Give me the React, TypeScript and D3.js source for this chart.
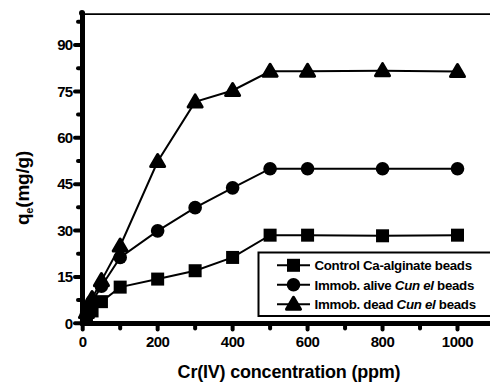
import React from "react";
import * as d3 from "d3";

const concentrations = [10, 25, 50, 100, 200, 300, 400, 500, 600, 800, 1000];
const controlBeads = [2, 4, 7, 11.7, 14.3, 17, 21.3, 28.5, 28.5, 28.3, 28.5];
const aliveBeads = [3, 7, 12, 21.3, 29.9, 37.4, 43.8, 50, 50, 50, 50];
const deadBeads = [3.5, 8, 13.8, 25, 52.3, 71.6, 75.3, 81.5, 81.5, 81.7, 81.4];
const xTicks = [0, 200, 400, 600, 800, 1000];
const xMinor = [100, 300, 500, 700, 900];
const yTicks = [0, 15, 30, 45, 60, 75, 90];
const yMinor = [7.5, 22.5, 37.5, 52.5, 67.5, 82.5, 97.5];
const legendLabels = [
  ["Control Ca-alginate beads", "", ""],
  ["Immob. alive ", "Cun el", " beads"],
  ["Immob. dead ", "Cun el", " beads"],
];

const W = 490;
const H = 385;

export default function App() {
  const x = d3.scaleLinear().domain([0, 1000]).range([82.7, 457.5]);
  const y = d3.scaleLinear().domain([0, 90]).range([323.3, 45]);
  const axisX = 82.5;
  const axisY = 323.5;
  const font = "Arial, 'Liberation Sans', sans-serif";

  const series = [
    { values: controlBeads, shape: "square" },
    { values: aliveBeads, shape: "circle" },
    { values: deadBeads, shape: "triangle" },
  ];

  const line = d3
    .line<number>()
    .x((_, i) => x(concentrations[i]))
    .y((d) => y(d));

  const marker = (shape: string, cx: number, cy: number, key: string | number) => {
    if (shape === "square") {
      return <rect key={key} x={cx - 6.5} y={cy - 6.5} width={13} height={13} fill="#000" />;
    }
    if (shape === "circle") {
      return <circle key={key} cx={cx} cy={cy} r={6.8} fill="#000" />;
    }
    const s = 6;
    const p = `M${cx},${cy - s - 1} L${cx + s + 1},${cy + s - 1} L${cx - s - 1},${cy + s - 1} Z`;
    return (
      <path key={key} d={p} fill="#000" stroke="#000" strokeWidth={3} strokeLinejoin="round" />
    );
  };

  const topY = y(100);

  return (
    <svg width={W} height={H} style={{ position: "absolute", left: 0, top: 0, background: "#fff" }}>
      <rect x={0} y={0} width={W} height={H} fill="#fff" />
      {/* top frame line */}
      <line x1={axisX} x2={W} y1={topY} y2={topY} stroke="#000" strokeWidth={1.8} />

      {/* series lines */}
      {series.map((s, si) => (
        <path key={"l" + si} d={line(s.values) || ""} fill="none" stroke="#000" strokeWidth={2} />
      ))}
      {series.map((s, si) =>
        s.values.map((v, i) => marker(s.shape, x(concentrations[i]), y(v), si + "-" + i))
      )}

      {/* legend */}
      <rect x={258.5} y={252.5} width={240} height={63.5} fill="#fff" stroke="#000" strokeWidth={2} />
      {legendLabels.map((lab, i) => {
        const ly = 265.3 + i * 19.5;
        return (
          <g key={"lg" + i}>
            <line x1={277} x2={310} y1={ly} y2={ly} stroke="#000" strokeWidth={2} />
            {marker(series[i].shape, 293.5, ly, "lm" + i)}
            <text x={314.5} y={ly + 4.7} fontFamily={font} fontSize={13.3} fontWeight="bold" fill="#000" letterSpacing={-0.3}>
              {lab[0]}
              {lab[1] && <tspan fontStyle="italic">{lab[1]}</tspan>}
              {lab[2]}
            </text>
          </g>
        );
      })}

      {/* y axis */}
      <line x1={axisX} x2={axisX} y1={topY - 2} y2={axisY + 2} stroke="#000" strokeWidth={5} />
      {yTicks.map((t) => (
        <g key={"yt" + t}>
          <line x1={axisX} x2={75} y1={y(t)} y2={y(t)} stroke="#000" strokeWidth={4} strokeLinecap="round" />
          <text x={72.5} y={y(t) + 5.2} textAnchor="end" fontFamily={font} fontSize={15} fontWeight="bold" fill="#000" letterSpacing={-0.7}>
            {t}
          </text>
        </g>
      ))}
      {yMinor.map((t) => (
        <line key={"ym" + t} x1={axisX} x2={78} y1={y(t)} y2={y(t)} stroke="#000" strokeWidth={4} strokeLinecap="round" />
      ))}
      <circle cx={axisX - 0.5} cy={topY - 1} r={3} fill="#000" />

      {/* x axis */}
      <line x1={axisX - 2} x2={W} y1={axisY} y2={axisY} stroke="#000" strokeWidth={5} />
      {xTicks.map((t) => (
        <g key={"xt" + t}>
          <line x1={x(t)} x2={x(t)} y1={axisY} y2={329.5} stroke="#000" strokeWidth={4} strokeLinecap="round" />
          <text x={x(t)} y={346.5} textAnchor="middle" fontFamily={font} fontSize={15} fontWeight="bold" fill="#000" letterSpacing={-0.5}>
            {t}
          </text>
        </g>
      ))}
      {xMinor.map((t) => (
        <line key={"xm" + t} x1={x(t)} x2={x(t)} y1={axisY} y2={328.5} stroke="#000" strokeWidth={4} strokeLinecap="round" />
      ))}

      {/* axis titles */}
      <text x={289} y={378} textAnchor="middle" fontFamily={font} fontSize={18} fontWeight="bold" fill="#000" letterSpacing={-0.2}>
        Cr(IV) concentration (ppm)
      </text>
      <text transform="translate(29,188) rotate(-90)" textAnchor="middle" fontFamily={font} fontSize={19} fontWeight="bold" fill="#000" letterSpacing={-0.2}>
        q<tspan fontSize={11} dy={4}>e</tspan>
        <tspan dy={-4}>(mg/g)</tspan>
      </text>
    </svg>
  );
}
